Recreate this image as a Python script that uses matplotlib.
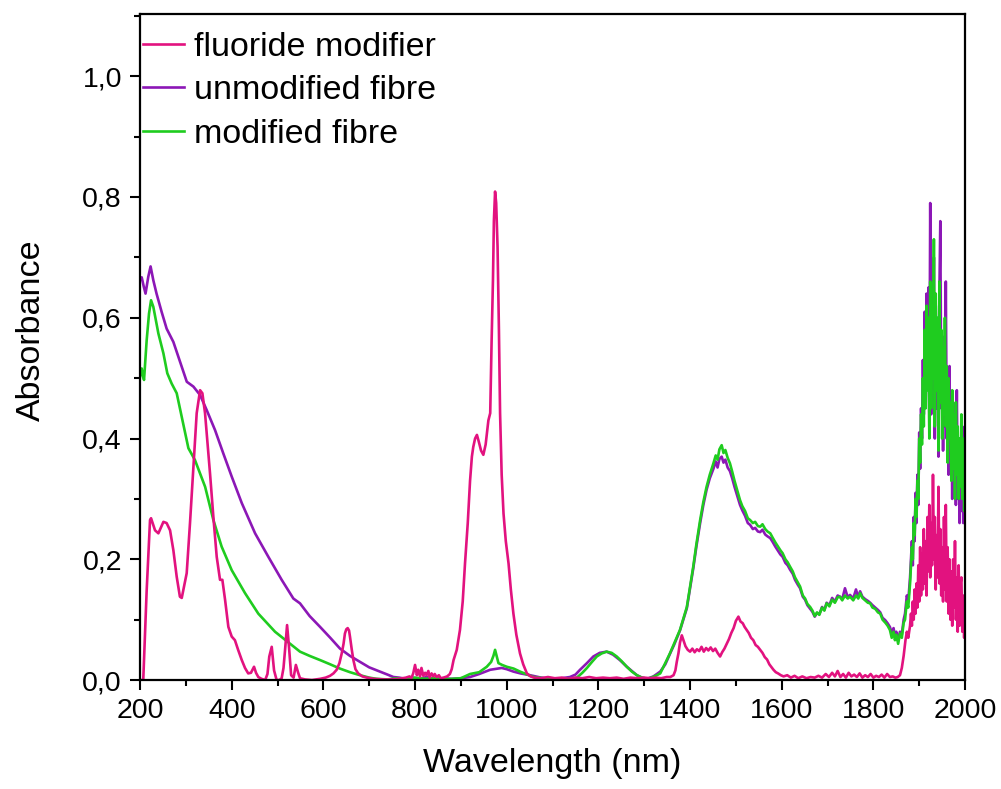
import matplotlib
matplotlib.use('Agg')
import matplotlib.pyplot as plt
from matplotlib.ticker import MultipleLocator, FuncFormatter

# ---- data ----
# fluoride modifier (pink)
pink_wl = [200, 207, 214.5, 221.8, 224, 232.7, 240, 251, 258, 265.5, 272.7, 280, 287, 291, 296,
           301.8, 309, 316.4, 323.6, 331, 336, 341.8, 352.7, 360, 367.3, 374.5, 379.6, 385.5,
           392.7, 400, 407, 414, 422, 429, 436, 442, 448.7, 453, 458, 465, 473, 478, 482, 487.3,
           492.4, 498, 504, 509, 513, 516.4, 520.8, 525, 529.6, 535, 540, 545, 549, 560, 575,
           593, 605, 614.5, 622, 629, 635, 640, 644, 647, 650, 653, 656, 658, 662, 665.5, 670,
           676, 685, 695, 710, 730, 750, 765, 780, 788, 792, 796, 800, 804, 807, 811, 814, 818,
           822, 825, 829, 832, 836, 840, 843, 847, 852, 856, 862, 870, 876, 880, 884, 891, 898,
           904, 909, 915, 920, 924, 927, 931, 935, 939, 944, 949, 954, 960, 964, 967, 970, 972,
           974.6, 977, 980, 983, 985.5, 989, 993, 998, 1004, 1009, 1014.6, 1021, 1029, 1036,
           1044, 1052, 1060, 1075, 1090, 1105, 1120, 1135, 1150, 1165, 1180, 1195, 1210, 1225,
           1240, 1255, 1270, 1285, 1300, 1313, 1325, 1337, 1349, 1357, 1364, 1368, 1371, 1374.6,
           1378, 1382, 1386, 1390, 1395, 1400, 1405, 1410, 1415, 1420, 1425, 1430, 1435, 1440,
           1445, 1450, 1455, 1460, 1465.5, 1470, 1475, 1480, 1485, 1490, 1495, 1500, 1505.5,
           1510, 1515, 1519, 1523.6, 1528, 1533, 1538, 1543, 1548, 1553, 1558, 1563, 1568, 1573,
           1577, 1582, 1587, 1592, 1598, 1604, 1612, 1620, 1628, 1636, 1645, 1654, 1663, 1672,
           1680, 1688, 1696, 1703, 1710, 1716, 1722, 1728, 1734, 1740, 1746, 1752, 1758, 1764,
           1770, 1776, 1782, 1788, 1794, 1800, 1806, 1812, 1818, 1824, 1830, 1836, 1842, 1848,
           1853, 1858, 1862, 1866, 1870, 1873, 1876,
           1880, 1882, 1884, 1886, 1888, 1890, 1892, 1894, 1896, 1898, 1900, 1902, 1904, 1906,
           1908, 1910, 1912, 1914, 1916, 1918, 1920, 1922, 1924, 1926, 1928, 1930, 1932, 1934,
           1936, 1938, 1940, 1942, 1944, 1946, 1948, 1950, 1952, 1954, 1956, 1958, 1960, 1962,
           1964, 1966, 1968, 1970, 1972, 1974, 1976, 1978, 1980, 1982, 1984, 1986, 1988, 1990,
           1992, 1994, 1996, 1998, 2000]
pink_abs = [0.0, 0.0, 0.149, 0.265, 0.268, 0.248, 0.243, 0.262, 0.26, 0.248, 0.215, 0.171, 0.138, 0.136, 0.155,
            0.177, 0.26, 0.353, 0.442, 0.48, 0.475, 0.442, 0.342, 0.27, 0.204, 0.166, 0.166, 0.133,
            0.088, 0.072, 0.066, 0.05, 0.033, 0.02, 0.011, 0.012, 0.022, 0.012, 0.005, 0.002, 0.0, 0.01, 0.039, 0.055,
            0.016, 0.0, 0.0, 0.003, 0.02, 0.05, 0.091, 0.055, 0.008, 0.004, 0.025, 0.012, 0.003, 0.001, 0.0,
            0.002, 0.004, 0.007, 0.011, 0.017, 0.028, 0.044, 0.06, 0.077, 0.084, 0.086, 0.082, 0.072, 0.05, 0.033, 0.018,
            0.011, 0.006, 0.004, 0.002, 0.001, 0.001, 0.002, 0.004, 0.006, 0.003, 0.011, 0.025, 0.008, 0.017, 0.006, 0.02, 0.007,
            0.012, 0.008, 0.015, 0.004, 0.011, 0.006, 0.01, 0.005, 0.008, 0.003, 0.004, 0.006, 0.01, 0.018, 0.033, 0.05, 0.083,
            0.13, 0.193, 0.26, 0.33, 0.37, 0.386, 0.4, 0.406, 0.395, 0.38, 0.373, 0.39, 0.43, 0.442, 0.56, 0.663, 0.76,
            0.809, 0.79, 0.718, 0.58, 0.442, 0.34, 0.276, 0.23, 0.193, 0.15, 0.11, 0.075, 0.044, 0.026,
            0.011, 0.006, 0.004, 0.003, 0.005, 0.003, 0.004, 0.002, 0.004, 0.003, 0.005, 0.003, 0.004, 0.003,
            0.004, 0.002, 0.004, 0.003, 0.004, 0.003, 0.004, 0.003, 0.005, 0.005, 0.008, 0.016, 0.03, 0.044,
            0.062, 0.074, 0.065, 0.056, 0.05, 0.047, 0.052, 0.046, 0.051, 0.048, 0.055, 0.047, 0.053, 0.049,
            0.054, 0.048, 0.052, 0.045, 0.039, 0.046, 0.052, 0.06, 0.068, 0.078, 0.086, 0.098, 0.105,
            0.097, 0.094, 0.088, 0.083, 0.078, 0.07, 0.066, 0.058, 0.055, 0.05, 0.045, 0.038, 0.034, 0.026,
            0.022, 0.017, 0.013, 0.011, 0.008, 0.006, 0.008, 0.004, 0.007, 0.003, 0.006, 0.003, 0.005, 0.004,
            0.007, 0.004, 0.01, 0.005, 0.012, 0.006, 0.015, 0.005, 0.01, 0.004, 0.012, 0.006, 0.009, 0.005,
            0.011, 0.004, 0.008, 0.005, 0.01, 0.004, 0.007, 0.005, 0.009, 0.004, 0.01, 0.005, 0.006, 0.004,
            0.005, 0.008, 0.02, 0.04, 0.066, 0.08, 0.07,
            0.09, 0.11, 0.09, 0.13, 0.10, 0.15, 0.11, 0.16, 0.12, 0.19, 0.13, 0.22, 0.14, 0.21,
            0.15, 0.25, 0.16, 0.23, 0.14, 0.27, 0.18, 0.29, 0.17, 0.26, 0.19, 0.34, 0.20, 0.27,
            0.15, 0.24, 0.17, 0.32, 0.16, 0.25, 0.14, 0.22, 0.13, 0.27, 0.15, 0.29, 0.13, 0.22,
            0.11, 0.20, 0.10, 0.18, 0.09, 0.20, 0.12, 0.23, 0.10, 0.17, 0.08, 0.19, 0.09, 0.16,
            0.17, 0.08, 0.14, 0.07, 0.12]

# unmodified fibre (purple)
purple_wl = [200, 203.6, 208, 212, 218, 223, 229, 236, 247, 258, 272.7, 287.3, 302, 316.4, 331,
             345.5, 363.6, 381.8, 400, 422, 451, 480, 509, 534.5, 549, 570, 592.8, 615, 636.4,
             658, 680, 700, 723.7, 740, 752.7, 765, 780, 795, 810, 825, 840, 860, 880, 900, 920,
             940, 964, 980, 989, 1000, 1014.6, 1030, 1051, 1075, 1102, 1120, 1138, 1150, 1160,
             1175, 1189, 1203, 1218, 1232, 1247, 1262, 1284, 1295, 1306, 1320, 1335, 1346, 1356.5,
             1365, 1378, 1393, 1400, 1407, 1414, 1422, 1429, 1436, 1443, 1451, 1456, 1460, 1464,
             1469, 1473, 1477, 1482, 1487, 1492, 1497, 1503, 1509, 1514, 1520, 1526, 1531, 1537,
             1542, 1548, 1553, 1558, 1564, 1569, 1575, 1580, 1586, 1591, 1597, 1602, 1608, 1613,
             1618, 1624, 1629, 1635, 1640, 1646, 1651, 1656, 1662, 1667, 1672, 1677, 1682, 1688,
             1693, 1698, 1704, 1710, 1716, 1722, 1727, 1732, 1738, 1744, 1749, 1756, 1762, 1767,
             1771, 1776, 1782, 1788, 1793, 1798, 1804, 1810, 1815, 1820, 1826, 1831, 1836, 1840,
             1844, 1847, 1850, 1854, 1858, 1862, 1866, 1869, 1873, 1876,
             1880, 1882, 1884, 1886, 1888, 1890, 1892, 1894, 1896, 1898, 1900, 1902, 1904, 1906,
             1908, 1910, 1912, 1914, 1916, 1918, 1920, 1922, 1924, 1926, 1928, 1930, 1932, 1934,
             1936, 1938, 1940, 1942, 1944, 1946, 1948, 1950, 1952, 1954, 1956, 1958, 1960, 1962,
             1964, 1966, 1968, 1970, 1972, 1974, 1976, 1978, 1980, 1982, 1984, 1986, 1988, 1990,
             1992, 1994, 1996, 1998, 2000]
purple_abs = [0.662, 0.667, 0.652, 0.64, 0.668, 0.685, 0.662, 0.64, 0.61, 0.582, 0.56, 0.527, 0.494, 0.486, 0.472,
              0.447, 0.414, 0.375, 0.337, 0.293, 0.243, 0.204, 0.166, 0.135, 0.127, 0.106, 0.088, 0.07, 0.052,
              0.04, 0.03, 0.021, 0.014, 0.009, 0.005, 0.004, 0.002, 0.004, 0.002, 0.005, 0.002, 0.003, 0.002, 0.003, 0.005,
              0.01, 0.017, 0.019, 0.02, 0.018, 0.014, 0.011, 0.008, 0.004, 0.002, 0.003, 0.005, 0.009, 0.017,
              0.028, 0.039, 0.045, 0.047, 0.042, 0.033, 0.022, 0.008, 0.004, 0.002, 0.006, 0.014, 0.026, 0.044,
              0.058, 0.082, 0.119, 0.152, 0.185, 0.222, 0.26, 0.29, 0.315, 0.334, 0.35, 0.362, 0.352, 0.366,
              0.37, 0.36, 0.365, 0.352, 0.346, 0.334, 0.32, 0.305, 0.29, 0.281, 0.272, 0.26, 0.257, 0.25,
              0.252, 0.246, 0.245, 0.249, 0.241, 0.238, 0.235, 0.229, 0.221, 0.215, 0.208, 0.204, 0.194, 0.19,
              0.183, 0.176, 0.166, 0.158, 0.152, 0.138, 0.133, 0.124, 0.118, 0.113, 0.105, 0.111, 0.109, 0.121,
              0.116, 0.128, 0.124, 0.136, 0.13, 0.14, 0.138, 0.134, 0.152, 0.137, 0.141, 0.135, 0.15, 0.137,
              0.147, 0.138, 0.134, 0.131, 0.128, 0.124, 0.12, 0.116, 0.112, 0.103, 0.099, 0.094, 0.088, 0.078,
              0.086, 0.072, 0.08, 0.066, 0.08, 0.075, 0.1, 0.11, 0.14, 0.13,
              0.17, 0.20, 0.23, 0.19, 0.27, 0.23, 0.31, 0.26, 0.34, 0.29, 0.41, 0.35, 0.45, 0.40,
              0.53, 0.44, 0.61, 0.46, 0.64, 0.50, 0.65, 0.42, 0.79, 0.44, 0.63, 0.48, 0.70, 0.40,
              0.62, 0.45, 0.58, 0.37, 0.64, 0.76, 0.45, 0.57, 0.38, 0.53, 0.42, 0.66, 0.40, 0.50,
              0.34, 0.52, 0.36, 0.45, 0.30, 0.46, 0.32, 0.42, 0.29, 0.48, 0.30, 0.40, 0.26, 0.38,
              0.28, 0.42, 0.26, 0.27, 0.36]

# modified fibre (green)
green_wl = [200, 203.6, 206, 208.7, 214.5, 219.6, 224, 229, 240, 251, 259.5, 269, 280, 291, 305.5,
            320, 331, 342, 360, 378, 400, 429, 458, 494.5, 531, 549, 570, 593, 615, 636, 658,
            680, 700, 716, 740, 760, 780, 800, 820, 840, 860, 880, 900, 920, 940, 956.5, 966, 971,
            974.6, 978, 982, 990, 1000, 1015, 1029, 1045, 1058, 1080, 1100, 1120, 1140, 1153,
            1165, 1175, 1186, 1196.5, 1207, 1218, 1229, 1240, 1251, 1262, 1273, 1284, 1295, 1306,
            1316, 1327.5, 1335, 1349, 1356, 1365, 1378, 1393, 1400, 1407, 1414, 1422, 1429, 1436,
            1443, 1451, 1456, 1460, 1464, 1469, 1473, 1477, 1482, 1487, 1492, 1497, 1503, 1509,
            1514, 1520, 1526, 1531, 1537, 1542, 1548, 1553, 1558, 1564, 1569, 1575, 1580, 1586,
            1591, 1597, 1602, 1608, 1613, 1618, 1624, 1629, 1635, 1640, 1646, 1651, 1656, 1662,
            1667, 1672, 1677, 1682, 1688, 1693, 1698, 1704, 1710, 1716, 1722, 1727, 1732, 1738,
            1744, 1749, 1756, 1762, 1767, 1771, 1776, 1782, 1788, 1793, 1798, 1804, 1810, 1815,
            1820, 1826, 1831, 1836, 1840, 1844, 1847, 1850, 1854, 1858, 1862, 1866, 1869, 1873, 1876,
            1880, 1882, 1884, 1886, 1888, 1890, 1892, 1894, 1896, 1898, 1900, 1902, 1904, 1906,
            1908, 1910, 1912, 1914, 1916, 1918, 1920, 1922, 1924, 1926, 1928, 1930, 1932, 1934,
            1936, 1938, 1940, 1942, 1944, 1946, 1948, 1950, 1952, 1954, 1956, 1958, 1960, 1962,
            1964, 1966, 1968, 1970, 1972, 1974, 1976, 1978, 1980, 1982, 1984, 1986, 1988, 1990,
            1992, 1994, 1996, 1998, 2000]
green_abs = [0.502, 0.516, 0.505, 0.497, 0.563, 0.607, 0.629, 0.618, 0.574, 0.541, 0.508, 0.491, 0.475, 0.436, 0.384,
             0.364, 0.342, 0.32, 0.265, 0.221, 0.182, 0.144, 0.11, 0.08, 0.058, 0.047, 0.04, 0.033, 0.026, 0.019, 0.013,
             0.008, 0.004, 0.002, 0.001, 0.003, 0.001, 0.004, 0.002, 0.003, 0.001, 0.002, 0.003, 0.01, 0.013, 0.022, 0.03, 0.04,
             0.05, 0.04, 0.028, 0.025, 0.022, 0.019, 0.014, 0.009, 0.005, 0.003, 0.002, 0.002, 0.002, 0.004,
             0.012, 0.02, 0.03, 0.039, 0.044, 0.047, 0.045, 0.039, 0.031, 0.022, 0.014, 0.008, 0.004, 0.002,
             0.004, 0.008, 0.011, 0.033, 0.044, 0.06, 0.083, 0.121, 0.155, 0.188, 0.226, 0.265, 0.295, 0.32,
             0.34, 0.359, 0.372, 0.365, 0.382, 0.389, 0.376, 0.381, 0.368, 0.359, 0.345, 0.33, 0.314, 0.298,
             0.288, 0.28, 0.268, 0.265, 0.26, 0.262, 0.255, 0.254, 0.258, 0.25, 0.246, 0.243, 0.236, 0.228,
             0.222, 0.215, 0.21, 0.2, 0.195, 0.188, 0.18, 0.17, 0.162, 0.155, 0.14, 0.135, 0.126, 0.121,
             0.115, 0.106, 0.112, 0.108, 0.12, 0.115, 0.127, 0.122, 0.133, 0.128, 0.137, 0.138, 0.132, 0.14,
             0.135, 0.138, 0.132, 0.14, 0.135, 0.144, 0.136, 0.132, 0.128, 0.127, 0.12, 0.118, 0.112, 0.11,
             0.1, 0.095, 0.09, 0.083, 0.07, 0.08, 0.066, 0.075, 0.06, 0.077, 0.07, 0.095, 0.1, 0.13, 0.12,
             0.16, 0.19, 0.22, 0.20, 0.26, 0.24, 0.30, 0.27, 0.33, 0.30, 0.40, 0.36, 0.44, 0.39,
             0.50, 0.42, 0.58, 0.45, 0.62, 0.48, 0.60, 0.40, 0.66, 0.45, 0.62, 0.50, 0.73, 0.42,
             0.64, 0.48, 0.60, 0.38, 0.66, 0.46, 0.58, 0.40, 0.55, 0.44, 0.60, 0.42, 0.52, 0.36,
             0.50, 0.40, 0.46, 0.33, 0.48, 0.35, 0.44, 0.30, 0.46, 0.34, 0.42, 0.30, 0.40, 0.32,
             0.44, 0.30, 0.40, 0.28, 0.36]

series_labels = ['fluoride modifier', 'unmodified fibre', 'modified fibre']
x_ticks = [200, 400, 600, 800, 1000, 1200, 1400, 1600, 1800, 2000]

PINK = '#E2127F'
PURPLE = '#8C17B6'
GREEN = '#1FCC1F'


def comma_fmt(v, pos):
    # decimal comma like the original plot
    return f'{v:.1f}'.replace('.', ',')


def make_plot():
    plt.rcParams['font.family'] = ['Liberation Sans', 'DejaVu Sans']
    fig = plt.figure(figsize=(10.01, 7.89), dpi=100)
    ax = fig.add_axes([0.1399, 0.1381, 0.8242, 0.8441])

    lw = 1.9
    h_purple, = ax.plot(purple_wl, purple_abs, color=PURPLE, lw=lw, label=series_labels[1])
    h_green, = ax.plot(green_wl, green_abs, color=GREEN, lw=lw, label=series_labels[2])
    h_pink, = ax.plot(pink_wl, pink_abs, color=PINK, lw=lw, label=series_labels[0])

    ax.set_xlim(200, 2000)
    ax.set_ylim(0, 1.103)
    ax.set_xticks(x_ticks)
    ax.xaxis.set_minor_locator(MultipleLocator(100))
    ax.yaxis.set_major_locator(MultipleLocator(0.2))
    ax.yaxis.set_minor_locator(MultipleLocator(0.1))
    ax.yaxis.set_major_formatter(FuncFormatter(comma_fmt))

    ax.tick_params(which='major', direction='out', length=7, width=1.5, labelsize=20.5, pad=6)
    ax.tick_params(which='minor', direction='out', length=4, width=1.5)
    ax.tick_params(top=False, right=False)
    for sp in ax.spines.values():
        sp.set_linewidth(1.6)

    ax.set_xlabel('Wavelength (nm)', fontsize=24.5)
    ax.set_ylabel('Absorbance', fontsize=24.5)
    ax.xaxis.set_label_coords(0.5, -0.102)
    ax.yaxis.set_label_coords(-0.113, 0.525)

    ax.legend(handles=[h_pink, h_purple, h_green], loc='upper left', frameon=False,
              bbox_to_anchor=(0.0, 0.978), fontsize=24.5, handlelength=1.2,
              handletextpad=0.3, labelspacing=0.36, borderaxespad=0.0, borderpad=0.1)

    fig.savefig('out.png', dpi=100)


if __name__ == '__main__':
    make_plot()
